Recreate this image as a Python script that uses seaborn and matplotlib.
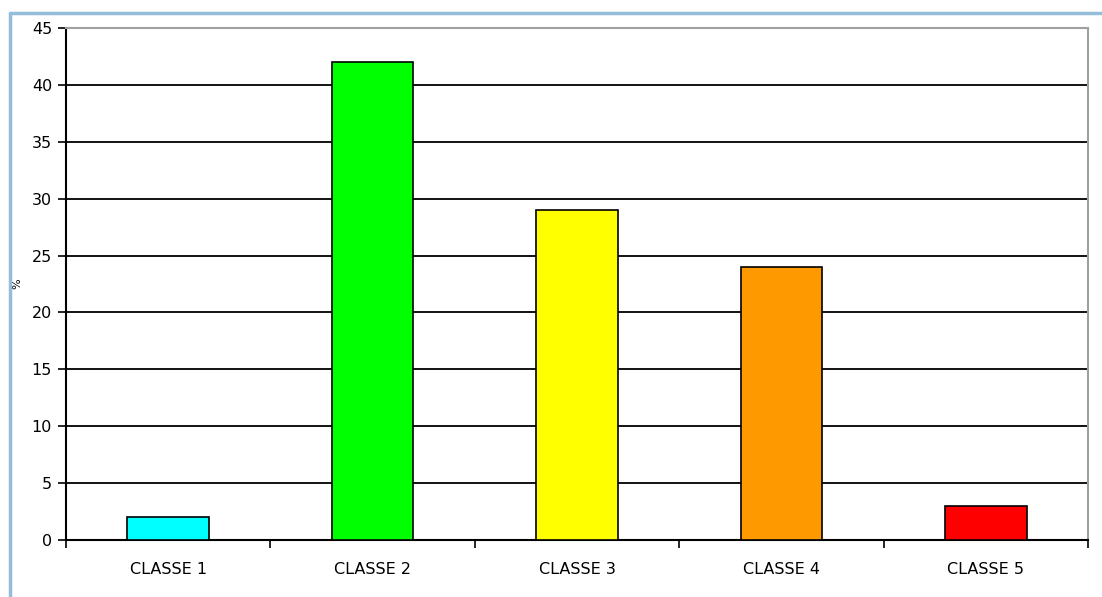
"""Bar chart of class percentages."""

import matplotlib

matplotlib.use("Agg")
import matplotlib.pyplot as plt
import numpy as np
import pandas as pd
import seaborn as sns
from matplotlib.lines import Line2D

categories = ["CLASSE 1", "CLASSE 2", "CLASSE 3", "CLASSE 4", "CLASSE 5"]
values = [2, 42, 29, 24, 3]
colors = ["#00ffff", "#00ff00", "#ffff00", "#ff9900", "#ff0000"]
yticks = list(range(0, 50, 5))


def main() -> None:
    sns.set_style("white")
    plt.rcParams["font.family"] = ["DejaVu Sans"]
    plt.rcParams["text.color"] = "black"
    plt.rcParams["xtick.color"] = "black"
    plt.rcParams["ytick.color"] = "black"
    plt.rcParams["axes.labelcolor"] = "black"

    df = pd.DataFrame({"classe": categories, "pct": values})

    fig = plt.figure(figsize=(11.02, 5.97), dpi=100)
    ax = fig.add_axes([0.0599, 0.0955, 0.9274, 0.8575])

    sns.barplot(
        data=df, x="classe", y="pct", hue="classe", palette=colors,
        legend=False, width=0.4, edgecolor="black", linewidth=1.2,
        saturation=1, ax=ax, zorder=3,
    )

    ax.set_xlim(-0.5, len(categories) - 0.5)
    ax.set_ylim(0, 45)
    ax.set_yticks(yticks)
    ax.yaxis.grid(True, color="black", linewidth=1.3, zorder=0)
    ax.set_axisbelow(True)

    ax.set_xlabel("")
    ax.set_ylabel("%", fontsize=8)
    ax.yaxis.set_label_coords(-0.043, 0.5)

    ax.tick_params(axis="y", length=6, width=1.2, color="black",
                   labelsize=11.5, left=True, direction="out", pad=4)
    ax.tick_params(axis="x", which="major", length=0, labelsize=11.5, pad=16)
    ax.set_xticks(np.arange(-0.5, len(categories), 1.0), minor=True)
    ax.tick_params(axis="x", which="minor", length=6, width=1.2,
                   color="black", bottom=True, direction="out")

    for side in ["left", "bottom"]:
        ax.spines[side].set_color("black")
        ax.spines[side].set_linewidth(1.5)
    for side in ["top", "right"]:
        ax.spines[side].set_color("#a0a0a0")
        ax.spines[side].set_linewidth(1.5)

    # light blue frame around the chart area
    x0 = 10 / 1102
    y0 = 1 - 13 / 597
    fig.add_artist(Line2D([x0, x0], [0, y0], color="#93bdd8", linewidth=2.5,
                          transform=fig.transFigure))
    fig.add_artist(Line2D([x0, 1], [y0, y0], color="#93bdd8", linewidth=2.5,
                          transform=fig.transFigure))

    fig.savefig("out.png", dpi=100)
    plt.close(fig)


if __name__ == "__main__":
    main()
